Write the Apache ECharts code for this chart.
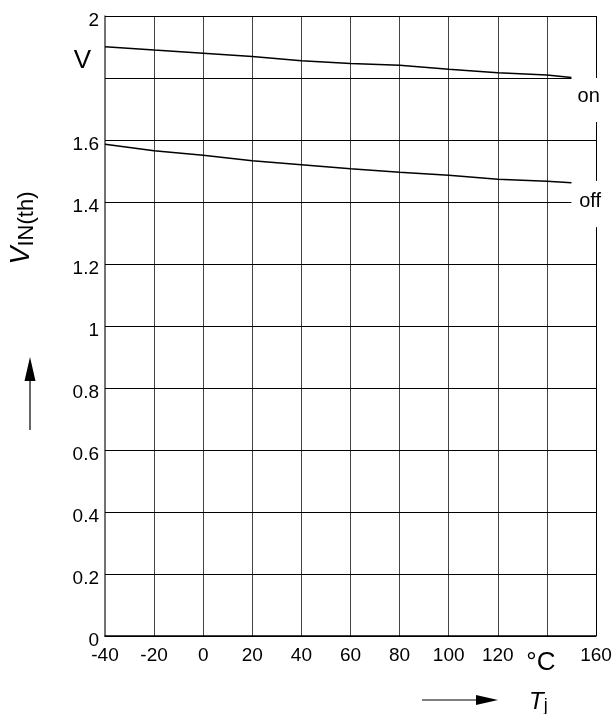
<!DOCTYPE html>
<html>
<head>
<meta charset="utf-8">
<script src="https://cdn.jsdelivr.net/npm/echarts@6/dist/echarts.min.js"></script>
<style>
html,body{margin:0;padding:0;background:#fff;}
#chart{width:615px;height:714px;}
</style>
</head>
<body>
<div id="chart"></div>
<script>
// ---- data ----
const temps = [-40, -20, 0, 20, 40, 60, 80, 100, 120, 140, 150];
const vOn  = [1.901, 1.890, 1.880, 1.869, 1.856, 1.847, 1.841, 1.828, 1.817, 1.810, 1.802];
const vOff = [1.586, 1.565, 1.551, 1.533, 1.520, 1.507, 1.496, 1.486, 1.473, 1.467, 1.462];
const yTicks = [0, 0.2, 0.4, 0.6, 0.8, 1, 1.2, 1.4, 1.6, 1.8, 2];
const xLabelSpecial = {140: '°C'};
const yLabelSpecial = {1.8: 'V'};
const curveNames = ['on', 'off'];
const curveLabelPos = [[157, 1.739], [157.6, 1.403]];
const shortLines = [1.8, 1.4];       // grid lines that stop at curve end
const curveEnd = 150;
const borderSegments = [[2, 1.8], [1.658, 1.468], [1.319, 0]];

const FONT = '"Liberation Sans", Arial, sans-serif';

const hLines = yTicks.map(y => [
  {coord: [-40, y]},
  {coord: [shortLines.includes(y) ? curveEnd : 160, y]}
]);
const rightBorder = borderSegments.map(s => [{coord: [160, s[0]]}, {coord: [160, s[1]]}]);

const chart = echarts.init(document.getElementById('chart'));
chart.setOption({
  animation: false,
  backgroundColor: '#fff',
  grid: {left: 105, right: 19, top: 16, bottom: 78},
  xAxis: {
    type: 'value', min: -40, max: 160, interval: 20,
    axisLine: {show: true, onZero: false, lineStyle: {color: '#000', width: 1.5}},
    axisTick: {show: false},
    splitLine: {show: true, showMinLine: false, showMaxLine: false, lineStyle: {color: '#444', width: 1}},
    axisLabel: {
      margin: 10,
      formatter: v => xLabelSpecial[v] ? '{c|' + xLabelSpecial[v] + '}' : '{n|' + v + '}',
      rich: {
        n: {fontSize: 19, color: '#000', fontFamily: FONT},
        c: {fontSize: 26, color: '#000', fontFamily: FONT, padding: [4, 12, 0, 0]}
      }
    }
  },
  yAxis: {
    type: 'value', min: 0, max: 2, interval: 0.2,
    axisLine: {show: true, onZero: false, lineStyle: {color: '#444', width: 1.5}},
    axisTick: {show: false},
    splitLine: {show: false},
    axisLabel: {
      margin: 6,
      formatter: v => {
        const r = Math.round(v * 10) / 10;
        return yLabelSpecial[r] ? '{u|' + yLabelSpecial[r] + '}' : '{n|' + r + '}';
      },
      rich: {
        n: {fontSize: 19, color: '#000', fontFamily: FONT, padding: [9, 0, 0, 0]},
        u: {fontSize: 26, color: '#000', fontFamily: FONT, padding: [0, 8, 34, 0]}
      }
    }
  },
  series: [
    {
      name: curveNames[0], type: 'line', showSymbol: false, silent: true,
      data: temps.map((t, i) => [t, vOn[i]]),
      lineStyle: {color: '#000', width: 1.5},
      markLine: {
        silent: true, symbol: ['none', 'none'], label: {show: false},
        lineStyle: {color: '#000', width: 1, type: 'solid'},
        data: hLines.concat(rightBorder)
      },
      markPoint: {
        symbol: 'circle', symbolSize: 0,
        label: {show: true, position: 'inside', formatter: p => p.name, fontSize: 20, color: '#000', fontFamily: FONT},
        data: curveNames.map((n, i) => ({name: n, coord: curveLabelPos[i]}))
      }
    },
    {
      name: curveNames[1], type: 'line', showSymbol: false, silent: true,
      data: temps.map((t, i) => [t, vOff[i]]),
      lineStyle: {color: '#000', width: 1.5}
    }
  ],
  graphic: [
    {
      type: 'text', x: 21, y: 228, rotation: Math.PI / 2,
      style: {
        text: '{v|V}{s|IN(th)}',
        align: 'center', verticalAlign: 'middle',
        rich: {
          v: {fontSize: 27, fontStyle: 'italic', fontFamily: FONT, fill: '#000', lineHeight: 32},
          s: {fontSize: 22, fontFamily: FONT, fill: '#000', verticalAlign: 'bottom', padding: [11, 0, 0, 0]}
        }
      }
    },
    {type: 'line', shape: {x1: 30, y1: 430, x2: 30, y2: 378}, style: {stroke: '#000', lineWidth: 1.2}},
    {type: 'polygon', shape: {points: [[30, 357], [24.5, 381], [35.5, 381]]}, style: {fill: '#000'}},
    {
      type: 'text', x: 529, y: 702,
      style: {
        text: '{v|T}{s|j}',
        align: 'left', verticalAlign: 'middle',
        rich: {
          v: {fontSize: 24, fontStyle: 'italic', fontFamily: FONT, fill: '#000', lineHeight: 26},
          s: {fontSize: 18, fontFamily: FONT, fill: '#000', verticalAlign: 'bottom', padding: [8, 0, 0, 0]}
        }
      }
    },
    {type: 'line', shape: {x1: 422, y1: 700, x2: 480, y2: 700}, style: {stroke: '#000', lineWidth: 1.2}},
    {type: 'polygon', shape: {points: [[498, 700], [476, 695], [476, 705]]}, style: {fill: '#000'}}
  ]
});
</script>
</body>
</html>
